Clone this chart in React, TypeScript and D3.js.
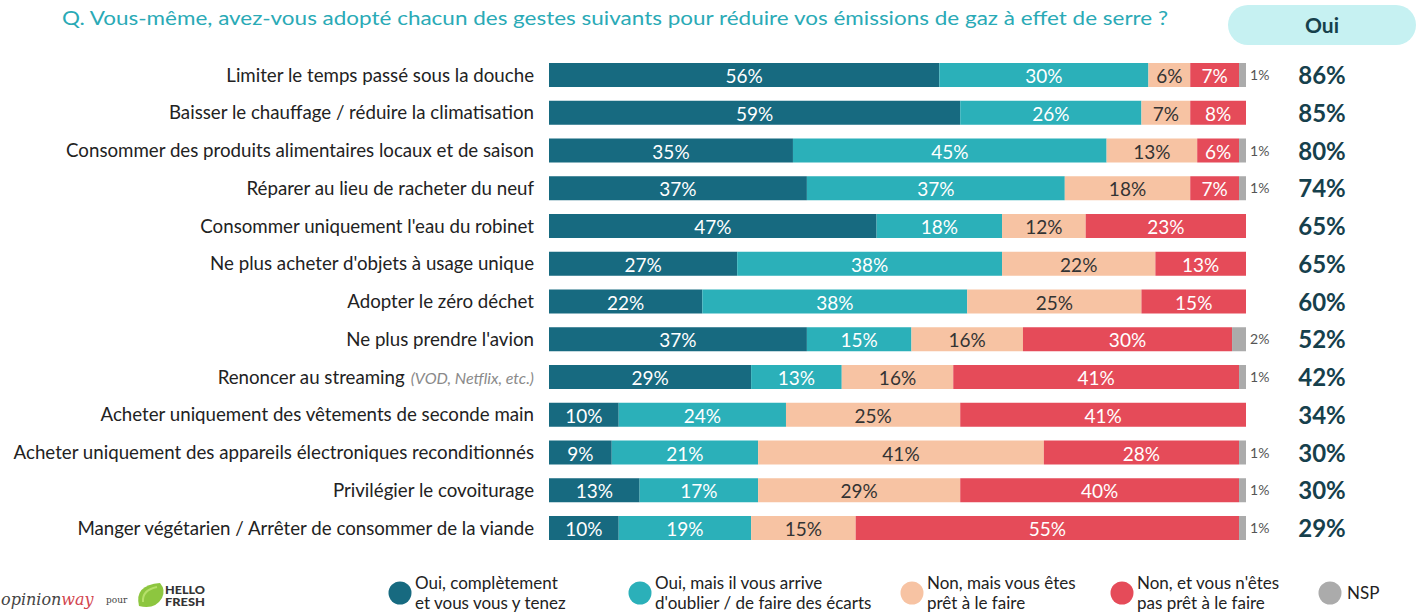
import React from "react";
import * as d3 from "d3";

const categories = [
  "Limiter le temps passé sous la douche",
  "Baisser le chauffage / réduire la climatisation",
  "Consommer des produits alimentaires locaux et de saison",
  "Réparer au lieu de racheter du neuf",
  "Consommer uniquement l'eau du robinet",
  "Ne plus acheter d'objets à usage unique",
  "Adopter le zéro déchet",
  "Ne plus prendre l'avion",
  "Renoncer au streaming",
  "Acheter uniquement des vêtements de seconde main",
  "Acheter uniquement des appareils électroniques reconditionnés",
  "Privilégier le covoiturage",
  "Manger végétarien / Arrêter de consommer de la viande",
];
const categoryNotes = ["", "", "", "", "", "", "", "", "(VOD, Netflix, etc.)", "", "", "", ""];

const seriesNames = [
  "Oui, complètement|et vous vous y tenez",
  "Oui, mais il vous arrive|d'oublier / de faire des écarts",
  "Non, mais vous êtes|prêt à le faire",
  "Non, et vous n'êtes|pas prêt à le faire",
  "NSP",
];
const ouiComplet = [56, 59, 35, 37, 47, 27, 22, 37, 29, 10, 9, 13, 10];
const ouiEcarts = [30, 26, 45, 37, 18, 38, 38, 15, 13, 24, 21, 17, 19];
const nonPret = [6, 7, 13, 18, 12, 22, 25, 16, 16, 25, 41, 29, 15];
const nonPasPret = [7, 8, 6, 7, 23, 13, 15, 30, 41, 41, 28, 40, 55];
const nsp = [1, 0, 1, 1, 0, 0, 0, 2, 1, 0, 1, 1, 1];
const ouiTotal = [86, 85, 80, 74, 65, 65, 60, 52, 42, 34, 30, 30, 29];

const title =
  "Q. Vous-même, avez-vous adopté chacun des gestes suivants pour réduire vos émissions de gaz à effet de serre ?";

const colors = ["#176a80", "#2bb0b9", "#f7c3a3", "#e54b59", "#ababab"];
const labelColors = ["#ffffff", "#ffffff", "#333333", "#ffffff", "#555555"];
const FONT = "Lato, 'Open Sans', sans-serif";

export default function App() {
  const W = 1418;
  const H = 616;
  const x = d3.scaleLinear().domain([0, 100]).range([549, 1246]);
  const y = d3.scalePoint<string>().domain(categories).range([75, 528]);
  const barH = 24;
  const series = [ouiComplet, ouiEcarts, nonPret, nonPasPret, nsp];
  const rows = categories.map((c, i) => {
    const vals = series.map((s) => s[i]);
    const stack = d3.cumsum(vals);
    return { c, i, vals, stack };
  });
  const legendX = [400, 640, 912, 1122, 1330];

  return (
    <svg
      width={W}
      height={H}
      style={{ position: "absolute", left: 0, top: 0, display: "block", background: "#fff" }}
      fontFamily={FONT}
    >
      <text x={62} y={25} fill="#2aaab6" fontSize={19.5} textLength={1106} lengthAdjust="spacingAndGlyphs">
        {title}
      </text>
      <rect x={1228} y={5} width={188} height={40} rx={20} fill="#c6f1f2" />
      <text x={1322} y={33} textAnchor="middle" fill="#16404c" fontSize={21} fontWeight={700}>
        Oui
      </text>

      {rows.map(({ c, i, vals, stack }) => {
        const cy = y(c)!;
        return (
          <g key={c}>
            <text x={534} y={cy + 6.5} textAnchor="end" fill="#222" fontSize={18.7}>
              {c}
              {categoryNotes[i] ? (
                <tspan fill="#8a8a8a" fontStyle="italic" fontSize={16} dx={6}>
                  {categoryNotes[i]}
                </tspan>
              ) : null}
            </text>
            {vals.map((v, k) => {
              if (!v) return null;
              const x0 = x(stack[k] - v);
              const x1 = x(stack[k]);
              return (
                <rect key={k} x={x0} y={cy - barH / 2} width={x1 - x0} height={barH} fill={colors[k]} />
              );
            })}
            {vals.map((v, k) => {
              if (!v) return null;
              const x0 = x(stack[k] - v);
              const x1 = x(stack[k]);
              if (k === 4) {
                return (
                  <text key={"l" + k} x={x1 + 4} y={cy + 5} fill="#555" fontSize={14}>
                    {v}%
                  </text>
                );
              }
              return (
                <text
                  key={"l" + k}
                  x={(x0 + x1) / 2}
                  y={cy + 8}
                  textAnchor="middle"
                  fill={labelColors[k]}
                  fontSize={19}
                >
                  {v}%
                </text>
              );
            })}
            <text x={1322} y={cy + 9} textAnchor="middle" fill="#16404c" fontSize={24} fontWeight={700}>
              {ouiTotal[i]}%
            </text>
          </g>
        );
      })}

      {seriesNames.map((n, k) => {
        const lines = n.split("|");
        const lx = legendX[k];
        return (
          <g key={n}>
            <circle cx={lx} cy={593} r={11.5} fill={colors[k]} />
            {lines.length === 1 ? (
              <text x={lx + 17} y={599} fill="#222" fontSize={17}>
                {lines[0]}
              </text>
            ) : (
              lines.map((l, j) => (
                <text key={j} x={lx + 15} y={589 + j * 20} fill="#222" fontSize={17}>
                  {l}
                </text>
              ))
            )}
          </g>
        );
      })}

      <text x={1} y={605} fontFamily="'DejaVu Serif', serif" fontStyle="italic" fontSize={16}>
        <tspan fill="#444">opinion</tspan>
        <tspan fill="#d2454f">way</tspan>
      </text>
      <text x={106} y={603} fill="#444" fontSize={9} fontFamily="'DejaVu Serif', serif">
        pour
      </text>
      <path d="M139,606 Q134,585 160,583 Q166,590 162,598 Q155,610 139,606 Z" fill="#8dc63f" />
      <path d="M143,602 Q142,590 157,587" fill="none" stroke="#b6e06a" strokeWidth={2} />
      <text x={165} y={594} fill="#333" fontSize={11} fontWeight={900} textLength={40} lengthAdjust="spacingAndGlyphs">
        HELLO
      </text>
      <text x={165} y={606} fill="#333" fontSize={11} fontWeight={900} textLength={40} lengthAdjust="spacingAndGlyphs">
        FRESH
      </text>
    </svg>
  );
}
